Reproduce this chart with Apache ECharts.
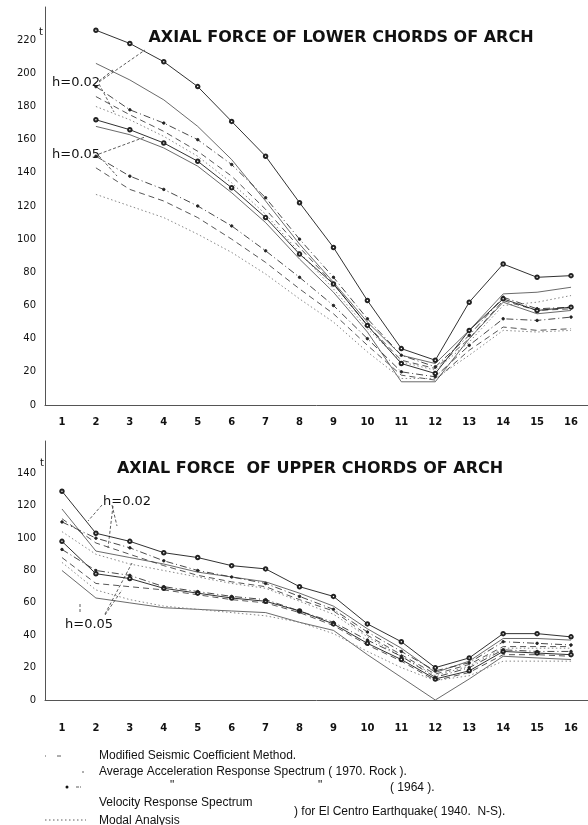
<!DOCTYPE html>
<html><head><meta charset="utf-8">
<script src="https://cdn.jsdelivr.net/npm/echarts@6/dist/echarts.min.js"></script>
<style>html,body{margin:0;padding:0;background:#fff}#c{width:588px;height:825px}</style>
</head><body><div id="c"></div>
<script>
// ---- data ----
const categories = ['1','2','3','4','5','6','7','8','9','10','11','12','13','14','15','16'];
const lowerTicks = [0,20,40,60,80,100,120,140,160,180,200,220];
const upperTicks = [0,20,40,60,80,100,120,140];

// Lower chords (top panel), tonnes; first node has no value
const lowerCirc02  = [null,226,218,207,192,171,150,122,95,63,34,27,62,85,77,78];
const lowerMs02    = [null,206,196,184,168,148,123,97,74,50,30,25,45,67,68,71];
const lowerDot02   = [null,192,178,170,160,145,125,100,77,52,30,23,42,65,58,59];
const lowerVel02   = [null,186,175,165,153,138,118,95,73,48,27,22,40,63,57,58];
const lowerModal02 = [null,180,172,162,150,134,115,92,70,46,26,21,38,60,62,66];
const lowerCirc05  = [null,172,166,158,147,131,113,91,73,48,25,19,45,64,57,59];
const lowerMs05    = [null,168,163,155,144,128,110,88,68,44,14,14,40,62,55,57];
const lowerDot05   = [null,150,138,130,120,108,93,77,60,40,20,17,36,52,51,53];
const lowerVel05   = [null,143,130,123,113,100,86,70,55,36,18,15,33,47,45,46];
const lowerModal05 = [null,127,120,113,103,92,79,64,50,32,16,16,30,45,44,45];

// Upper chords (bottom panel)
const upperCirc02  = [129,103,98,91,88,83,81,70,64,47,36,20,26,41,41,39];
const upperMs02    = [118,92,88,84,79,76,73,66,58,44,32,17,24,38,38,37];
const upperDot02   = [110,100,94,86,80,76,72,64,56,42,30,18,23,36,35,34];
const upperVel02   = [112,97,90,83,77,73,70,62,55,40,28,16,22,33,33,33];
const upperModal02 = [104,90,84,80,76,72,69,61,53,39,27,15,21,32,32,32];
const upperCirc05  = [98,78,75,69,66,63,61,55,47,35,25,13,18,30,29,28];
const upperMs05    = [80,63,60,57,56,55,54,48,43,28,14,0,13,27,26,25];
const upperDot05   = [93,80,77,70,67,64,62,55,48,37,27,14,20,31,30,30];
const upperVel05   = [88,72,70,68,65,62,60,54,46,34,24,12,17,28,28,27];
const upperModal05 = [85,68,62,58,56,54,52,48,41,30,20,12,15,24,24,24];

// ---- styles ----
const ST = {
  circ:  {line:{color:'#1a1a1a',width:0.9,type:'solid'}, symbol:'emptyCircle', size:3.5},
  ms:    {line:{color:'#444',width:0.8,type:'solid'}, symbol:'none', size:0},
  dot:   {line:{color:'#333',width:0.9,type:[7,3,1,3]}, symbol:'circle', size:2.5},
  vel:   {line:{color:'#444',width:0.9,type:[6,4]}, symbol:'none', size:0},
  modal: {line:{color:'#888',width:1,type:[1.5,2.5]}, symbol:'none', size:0}
};
function mk(name, data, st, idx){
  const s = ST[st];
  return {name, type:'line', data, xAxisIndex:idx, yAxisIndex:idx, symbol:s.symbol, symbolSize:s.size,
    showSymbol:s.symbol!=='none', connectNulls:false, lineStyle:s.line,
    itemStyle:{color:'#222',borderColor:'#222',borderWidth:0.9}, emphasis:{disabled:true}, animation:false, z:3};
}
const series = [
  mk('Lc02',lowerCirc02,'circ',0), mk('Lm02',lowerMs02,'ms',0), mk('Ld02',lowerDot02,'dot',0),
  mk('Lv02',lowerVel02,'vel',0), mk('Lmo02',lowerModal02,'modal',0),
  mk('Lc05',lowerCirc05,'circ',0), mk('Lm05',lowerMs05,'ms',0), mk('Ld05',lowerDot05,'dot',0),
  mk('Lv05',lowerVel05,'vel',0), mk('Lmo05',lowerModal05,'modal',0),
  mk('Uc02',upperCirc02,'circ',1), mk('Um02',upperMs02,'ms',1), mk('Ud02',upperDot02,'dot',1),
  mk('Uv02',upperVel02,'vel',1), mk('Umo02',upperModal02,'modal',1),
  mk('Uc05',upperCirc05,'circ',1), mk('Um05',upperMs05,'ms',1), mk('Ud05',upperDot05,'dot',1),
  mk('Uv05',upperVel05,'vel',1), mk('Umo05',upperModal05,'modal',1)
];

const FONT = 'DejaVu Sans';
function xAx(idx, margin){
  return {type:'category', gridIndex:idx, data:categories, boundaryGap:true,
    axisLine:{lineStyle:{color:'#555',width:1}}, axisTick:{show:false},
    axisLabel:{color:'#111', fontFamily:FONT, fontSize:10, fontWeight:'bold', margin:margin}, splitLine:{show:false}};
}
function yAx(idx, max, ticks){
  return {type:'value', gridIndex:idx, min:0, max:max, interval:20,
    axisLine:{show:true, lineStyle:{color:'#555',width:1}}, axisTick:{show:false}, splitLine:{show:false},
    axisLabel:{color:'#111', fontFamily:FONT, fontSize:10, margin:9,
      formatter:v => ticks.includes(v) ? String(v) : ''}};
}

function seg(x1,y1,x2,y2,dash){
  return {type:'line', shape:{x1,y1,x2,y2}, style:{stroke:'#333', lineWidth:0.8, lineDash:dash||[3,2]}, silent:true};
}
function txt(x,y,t,size,opts){
  return {type:'text', x, y, style:{text:t, fill:'#111', font:(opts&&opts.font)||(size+'px '+FONT),
    textAlign:(opts&&opts.align)||'left', textVerticalAlign:'middle'}, silent:true};
}

const legendFont = '12px "Liberation Sans"';
const graphic = [
  txt(341,38,'AXIAL FORCE OF LOWER CHORDS OF ARCH',0,{font:'bold 16px '+FONT, align:'center'}),
  txt(310,469,'AXIAL FORCE  OF UPPER CHORDS OF ARCH',0,{font:'bold 16px '+FONT, align:'center'}),
  txt(39,32,'t',10), txt(40,463,'t',10),
  // h labels, top panel
  txt(52,83,'h=0.02',13), seg(99,82,145,50), seg(99,84,114,112), seg(99,81,113,70),
  txt(52,155,'h=0.05',13), seg(99,154,145,137), seg(99,156,117,176),
  // h labels, bottom panel
  txt(103,502,'h=0.02',13), seg(102,505,88,521), seg(112,505,117,526), seg(113,506,108,548),
  txt(65,625,'h=0.05',13), seg(80,612,80,602), seg(105,614,132,563), seg(105,615,122,590),
  // legend
  seg(45,756,49,756,[1,3]), seg(57,756,61,756,[4,2]),
  txt(99,756,'Modified Seismic Coefficient Method.',0,{font:legendFont}),
  seg(82,772,84,772,[2,1]),
  txt(99,772,'Average Acceleration Response Spectrum ( 1970. Rock ).',0,{font:legendFont}),
  {type:'circle', shape:{cx:67,cy:787,r:1.5}, style:{fill:'#111'}, silent:true}, seg(76,787,81,787,[3,1]),
  txt(170,786,'"',0,{font:legendFont}), txt(318,786,'"',0,{font:legendFont}),
  txt(390,788,'( 1964 ).',0,{font:legendFont}),
  txt(99,803,'Velocity Response Spectrum',0,{font:legendFont}),
  txt(294,812,') for El Centro Earthquake( 1940.  N-S).',0,{font:legendFont}),
  seg(45,820,86,820,[1.5,2.5]),
  txt(99,821,'Modal Analysis',0,{font:legendFont})
];

const chart = echarts.init(document.getElementById('c'), null, {renderer:'canvas'});
chart.setOption({
  backgroundColor:'#fff', animation:false,
  grid:[{left:45, top:7, width:543, height:398}, {left:45, top:441, width:543, height:259}],
  xAxis:[xAx(0,12), xAx(1,23)],
  yAxis:[yAx(0,240,lowerTicks), yAx(1,160,upperTicks)],
  series, graphic
});
</script></body></html>
